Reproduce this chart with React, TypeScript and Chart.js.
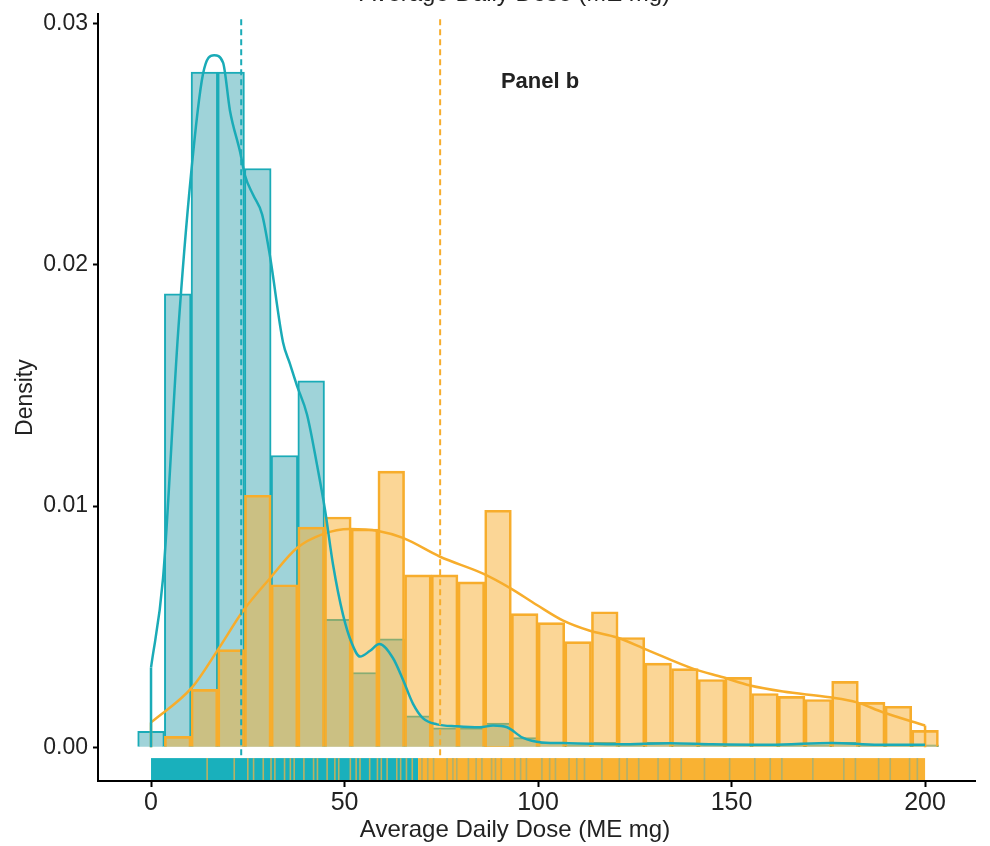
import React, { useEffect, useRef } from "react";
import { Chart, registerables } from "chart.js";

Chart.register(...registerables);

// ---- data ----
const BIN_START = 0;
const BIN_WIDTH = 200 / 29;

const tealHist = [
  0.00066, 0.0188, 0.028, 0.028, 0.024, 0.0121, 0.0152, 0.0053, 0.0031, 0.0045,
  0.0013, 0.0008, 0.0008, 0.001, 0.0004, 0.0002, 0.0001, 0.0002, 0.0001, 0.0002,
  0.0001, 0.0001, 0.0001, 0.0001, 0.0001, 0.0001, 0.0002, 0.0001, 0.0001, 0.0001,
];

const orangeHist = [
  0.0, 0.00045, 0.0024, 0.00405, 0.01045, 0.00674, 0.00913, 0.00955, 0.00905, 0.01145,
  0.00715, 0.00715, 0.00686, 0.00983, 0.00554, 0.00517, 0.00438, 0.00562, 0.00455, 0.00349,
  0.00326, 0.00281, 0.0029, 0.00223, 0.00211, 0.00198, 0.00273, 0.00186, 0.0017, 0.0007,
];

const tealKdeX = [
  0, 3.1, 7, 10.3, 13.4, 16.3, 18.6, 20.4, 23, 24.3, 26.4, 28.7, 30.7, 34.1, 35.9,
  37.7, 40.3, 42.9, 45, 47, 49.6, 51.9, 54, 56.6, 59, 62.5, 65.1, 67.7, 70.3, 73.9, 79,
  85, 88.4, 92, 96, 101, 108, 121, 134, 145, 160, 176, 188, 200,
];
const tealKdeY = [
  0.0033, 0.007, 0.0172, 0.0237, 0.0279, 0.0287, 0.0284, 0.0264, 0.0247, 0.0237, 0.0229,
  0.0221, 0.0204, 0.0168, 0.0159, 0.015, 0.0138, 0.0117, 0.0098, 0.0076, 0.0055, 0.0043,
  0.00376, 0.004, 0.00428, 0.0037, 0.0028, 0.0018, 0.0012, 0.00095, 0.00087, 0.00083,
  0.0009, 0.00083, 0.0004, 0.0002, 0.00017, 0.00012, 0.00017, 0.00012, 0.0001, 0.00018,
  0.0001, 0.0001,
];

const orangeKdeX = [
  0, 10.6, 17.3, 23.8, 30.7, 37.7, 44.4, 51.4, 58.7, 65.1, 74.7, 85.8, 92.8, 99.7,
  106.5, 113.4, 120.4, 128, 140, 147.8, 154.8, 163.3, 175.4, 182.4, 189.1, 200,
];
const orangeKdeY = [
  0.00103, 0.00248, 0.00405, 0.00566, 0.007, 0.00826, 0.00884, 0.00905, 0.00897, 0.00868,
  0.0079, 0.0072, 0.0066, 0.0059, 0.00525, 0.00483, 0.00455, 0.00405, 0.00326, 0.0029,
  0.00256, 0.00231, 0.00207, 0.00186, 0.00145, 0.0009,
];

const tealMedian = 23.3;
const orangeMedian = 74.7;

// rug: solid spans plus the other group's individual marks inside them
const rugTealSpan = [0, 69];
const rugOrangeSpan = [69, 200];
const rugOrangeInTeal = [
  14.5, 21.5, 25, 26.5, 29, 31, 32, 34.5, 36, 37, 39.5, 42, 43, 45.5, 47.5, 48.5, 51.5, 53,
  54, 56.5, 58.5, 59.5, 61, 63.5, 64.5, 66, 67.5,
];
const rugTealInOrange = [
  70, 71.5, 73, 76.5, 78, 79, 82, 84, 85.5, 88, 89, 90.5, 94, 95.5, 97, 101, 103, 104.5, 108,
  110, 112, 116.5, 121, 123, 126, 131, 134, 137, 143, 149.5, 156, 160, 163, 171, 179, 182,
  188, 191, 196, 198,
];

const xTicks = [0, 50, 100, 150, 200];
const yTicks = [0, 0.01, 0.02, 0.03];

const X_MIN = -13.7;
const X_MAX = 212.9;
const Y_MIN = -0.0014;
const Y_MAX = 0.0304;
const RUG_TOP = -0.00045;

const TEAL = "#1AABB7";
const TEAL_FILL = "#9FD3D9";
const ORANGE = "#F7AD2C";
const ORANGE_FILL = "rgba(248,174,46,0.5)";

const SANS = "'Liberation Sans', Arial, sans-serif";
const TITLE = "Average Daily Dose (ME mg)";
const TITLE_CENTER = 515;

const overlayPlugin = {
  id: "overlay",
  beforeDraw(chart: any) {
    const ctx = chart.ctx;
    ctx.save();
    ctx.fillStyle = "#ffffff";
    ctx.fillRect(0, 0, chart.width, chart.height);
    ctx.restore();
  },
  afterDatasetsDraw(chart: any) {
    const ctx = chart.ctx;
    const xs = chart.scales.x;
    const ys = chart.scales.y;
    const area = chart.chartArea;
    ctx.save();
    // median lines
    ctx.setLineDash([6, 4]);
    ctx.lineWidth = 2;
    [
      [tealMedian, TEAL],
      [orangeMedian, ORANGE],
    ].forEach(([v, c]: any) => {
      const px = xs.getPixelForValue(v);
      ctx.strokeStyle = c;
      ctx.beginPath();
      ctx.moveTo(px, area.top + 5);
      ctx.lineTo(px, ys.getPixelForValue(RUG_TOP) - 2);
      ctx.stroke();
    });
    ctx.setLineDash([]);
    // rug
    const rTop = ys.getPixelForValue(RUG_TOP);
    const rBot = ys.getPixelForValue(Y_MIN) - 1;
    ctx.fillStyle = "#19B0BC";
    let a = xs.getPixelForValue(rugTealSpan[0]);
    let b = xs.getPixelForValue(rugTealSpan[1]);
    ctx.fillRect(a, rTop, b - a, rBot - rTop);
    ctx.fillStyle = "#F9B233";
    a = xs.getPixelForValue(rugOrangeSpan[0]);
    b = xs.getPixelForValue(rugOrangeSpan[1]);
    ctx.fillRect(a, rTop, b - a, rBot - rTop);
    ctx.lineWidth = 1.6;
    ctx.strokeStyle = "rgba(214,178,84,0.85)";
    rugOrangeInTeal.forEach((v) => {
      const px = xs.getPixelForValue(v);
      ctx.beginPath();
      ctx.moveTo(px, rTop);
      ctx.lineTo(px, rBot);
      ctx.stroke();
    });
    ctx.strokeStyle = "rgba(150,176,130,0.75)";
    rugTealInOrange.forEach((v) => {
      const px = xs.getPixelForValue(v);
      ctx.beginPath();
      ctx.moveTo(px, rTop);
      ctx.lineTo(px, rBot);
      ctx.stroke();
    });
    // texts
    ctx.fillStyle = "#222222";
    ctx.textAlign = "center";
    ctx.textBaseline = "alphabetic";
    ctx.font = `24px ${SANS}`;
    ctx.fillText(TITLE, TITLE_CENTER, 0.5);
    ctx.fillText(TITLE, TITLE_CENTER, 837);
    ctx.font = `bold 22px ${SANS}`;
    ctx.textBaseline = "middle";
    ctx.fillText("Panel b", 540, 82);
    ctx.restore();
  },
};

export default function App() {
  const ref = useRef<HTMLCanvasElement | null>(null);
  useEffect(() => {
    if (!ref.current) return;
    const centers = tealHist.map((_, i) => BIN_START + i * BIN_WIDTH);
    const line = (xs: number[], ys: number[], color: string, order: number, mono: boolean) =>
      ({
        type: "line",
        data: xs.map((x, i) => ({ x, y: ys[i] })),
        borderColor: color,
        borderWidth: 2.5,
        pointRadius: 0,
        fill: false,
        cubicInterpolationMode: mono ? "monotone" : "default",
        tension: 0,
        order,
      } as any);
    const drop = (x: number) => [x, x];
    const chart = new Chart(ref.current, {
      type: "bar",
      data: {
        datasets: [
          {
            type: "bar",
            data: centers.map((x, i) => ({ x, y: tealHist[i] })),
            backgroundColor: TEAL_FILL,
            borderColor: TEAL,
            borderWidth: 2,
            barPercentage: 1,
            categoryPercentage: 1,
            grouped: false,
            order: 5,
          } as any,
          {
            type: "bar",
            data: centers.map((x, i) => ({ x, y: orangeHist[i] })),
            backgroundColor: ORANGE_FILL,
            borderColor: ORANGE,
            borderWidth: 2,
            barPercentage: 1,
            categoryPercentage: 1,
            grouped: false,
            order: 4,
          } as any,
          line(orangeKdeX, orangeKdeY, ORANGE, 3, true),
          line(drop(orangeKdeX[0]), [0, orangeKdeY[0]], ORANGE, 3, false),
          line(
            drop(orangeKdeX[orangeKdeX.length - 1]),
            [0, orangeKdeY[orangeKdeY.length - 1]],
            ORANGE,
            3,
            false
          ),
          line(tealKdeX, tealKdeY, TEAL, 2, true),
          line(drop(tealKdeX[0]), [0, tealKdeY[0]], TEAL, 2, false),
        ],
      },
      options: {
        animation: false,
        responsive: false,
        maintainAspectRatio: false,
        layout: { padding: { left: 0, right: 15, top: 12, bottom: 0 } },
        plugins: {
          legend: { display: false },
          tooltip: { enabled: false },
          title: { display: false },
        },
        scales: {
          x: {
            type: "linear",
            min: X_MIN,
            max: X_MAX,
            offset: false,
            afterBuildTicks: (s: any) => {
              s.ticks = xTicks.map((v) => ({ value: v }));
            },
            afterFit: (s: any) => {
              s.height = 65;
            },
            grid: {
              offset: false,
              drawOnChartArea: false,
              drawTicks: true,
              tickLength: 6,
              tickWidth: 2,
              tickColor: "#000",
            },
            border: { display: true, color: "#000", width: 2 },
            ticks: {
              color: "#222",
              font: { family: SANS, size: 25 },
              padding: 1,
              maxRotation: 0,
              callback: (v: any) => String(v),
            },
            title: { display: false },
          },
          y: {
            type: "linear",
            min: Y_MIN,
            max: Y_MAX,
            afterBuildTicks: (s: any) => {
              s.ticks = yTicks.map((v) => ({ value: v }));
            },
            afterFit: (s: any) => {
              s.width = 98;
            },
            grid: {
              drawOnChartArea: false,
              drawTicks: true,
              tickLength: 5,
              tickWidth: 2,
              tickColor: "#000",
            },
            border: { display: true, color: "#000", width: 2 },
            ticks: {
              color: "#222",
              font: { family: SANS, size: 23, lineHeight: 0.8 },
              padding: 5,
              callback: (v: any) => Number(v).toFixed(2),
            },
            title: {
              display: true,
              text: "Density",
              color: "#222",
              font: { family: SANS, size: 23 },
              padding: { top: 12, bottom: 0 },
            },
          },
        },
      },
      plugins: [overlayPlugin],
    } as any);
    return () => chart.destroy();
  }, []);
  return (
    <div style={{ position: "absolute", left: 0, top: 0, width: 990, height: 846 }}>
      <canvas ref={ref} width={990} height={846} style={{ width: 990, height: 846, display: "block" }} />
    </div>
  );
}
